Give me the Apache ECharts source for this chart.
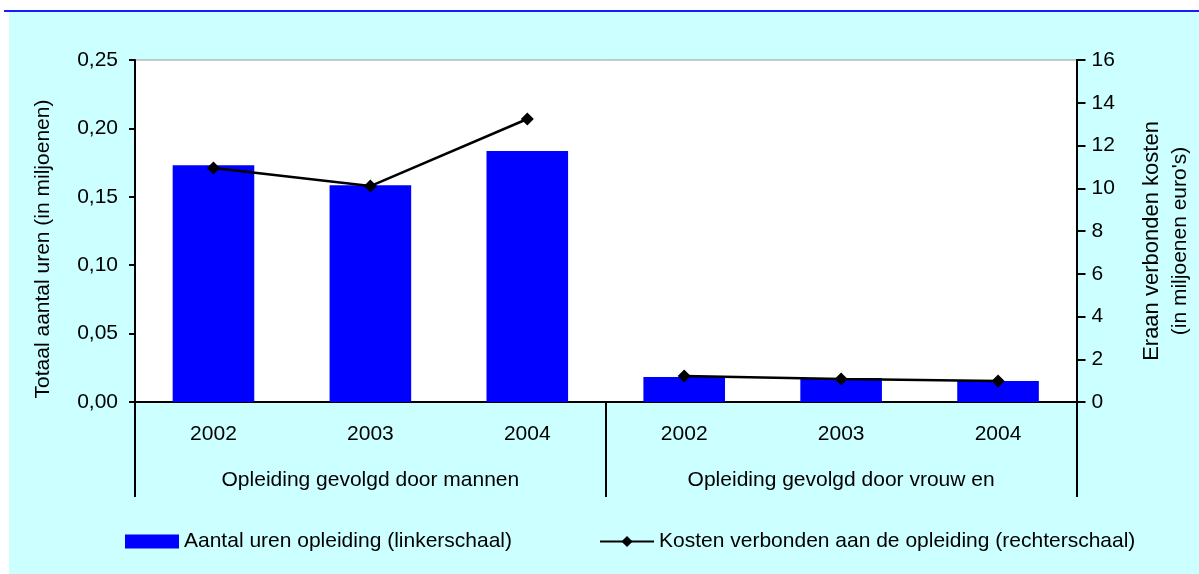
<!DOCTYPE html>
<html>
<head>
<meta charset="utf-8">
<script src="https://cdn.jsdelivr.net/npm/echarts@6/dist/echarts.min.js"></script>
<style>
  html, body { margin: 0; padding: 0; background: #fff; }
  #chart { width: 1199px; height: 574px; }
</style>
</head>
<body>
<div id="chart"></div>
<script>
// Data
const years = ["2002", "2003", "2004", "2002", "2003", "2004"];
const groups = ["Opleiding gevolgd door mannen", "Opleiding gevolgd door vrouw en"];
const hours = [0.173, 0.1585, 0.1835, 0.0183, 0.0175, 0.0154];
const costsMen = [10.95, 10.1, 13.24, "-", "-", "-"];
const costsWomen = ["-", "-", "-", 1.22, 1.08, 0.98];

const FONT = "Liberation Sans, Arial, sans-serif";
const BAR_NAME = "Aantal uren opleiding (linkerschaal)";
const LINE_NAME = "Kosten verbonden aan de opleiding (rechterschaal)";

const chart = echarts.init(document.getElementById("chart"));

const lineSeries = (data) => ({
  name: LINE_NAME,
  type: "line",
  yAxisIndex: 1,
  data: data,
  symbol: "diamond",
  symbolSize: 13,
  lineStyle: { color: "#000", width: 2.5 },
  itemStyle: { color: "#000" },
  z: 5,
});

const option = {
  animation: false,
  backgroundColor: "#fff",
  textStyle: { fontFamily: FONT },
  graphic: [
    // cyan page background and top blue rule
    { type: "rect", left: 9, top: 12, shape: { width: 1190, height: 562 }, style: { fill: "#ccffff" }, z: -10 },
    { type: "rect", left: 4, top: 10, shape: { width: 1195, height: 2 }, style: { fill: "#1a1aff" }, z: -9 },
  ],
  grid: {
    left: 135,
    right: 122,
    top: 60,
    bottom: 172,
    show: true,
    backgroundColor: "#fff",
    borderColor: "#999",
    borderWidth: 1,
  },
  legend: {
    data: [
      { name: BAR_NAME, icon: "rect" },
      { name: LINE_NAME },
    ],
    left: 120,
    top: 526,
    itemWidth: 54,
    itemHeight: 14,
    itemGap: 87,
    textStyle: { fontSize: 21, color: "#000", fontFamily: FONT },
  },
  xAxis: [
    {
      type: "category",
      data: years,
      position: "bottom",
      axisLine: { lineStyle: { color: "#000", width: 2 } },
      axisTick: { show: false },
      axisLabel: { color: "#000", fontSize: 21, margin: 22, fontFamily: FONT },
    },
    {
      type: "category",
      data: groups,
      position: "bottom",
      offset: 0,
      axisLine: { show: false },
      axisTick: { show: true, length: 95, lineStyle: { color: "#000", width: 2 } },
      axisLabel: { color: "#000", fontSize: 21, margin: 68, fontFamily: FONT },
    },
  ],
  yAxis: [
    {
      type: "value",
      min: 0,
      max: 0.25,
      interval: 0.05,
      position: "left",
      name: "Totaal aantal uren (in miljoenen)",
      nameLocation: "middle",
      nameRotate: 90,
      nameGap: 81,
      nameTextStyle: { color: "#000", fontSize: 21, fontFamily: FONT, padding: [0, 36, 0, 0] },
      axisLine: { show: true, lineStyle: { color: "#000", width: 2 } },
      axisTick: { show: true, length: 6, lineStyle: { color: "#000", width: 2 } },
      axisLabel: {
        color: "#000",
        fontSize: 21,
        margin: 17,
        fontFamily: FONT,
        formatter: (v) => v.toFixed(2).replace(".", ","),
      },
      splitLine: { show: false },
    },
    {
      type: "value",
      min: 0,
      max: 16,
      interval: 2,
      position: "right",
      name: "{a|Eraan verbonden kosten}\n{b|(in miljoenen euro's)}",
      nameLocation: "middle",
      nameRotate: 90,
      nameGap: 60,
      nameTextStyle: {
        color: "#000",
        fontFamily: FONT,
        padding: [0, 20, 0, 0],
        rich: {
          a: { fontSize: 22, color: "#000", fontFamily: FONT, lineHeight: 30 },
          b: { fontSize: 21, color: "#000", fontFamily: FONT, lineHeight: 28 },
        },
      },
      axisLine: { show: true, lineStyle: { color: "#000", width: 2 } },
      axisTick: { show: true, length: 9, lineStyle: { color: "#000", width: 2 } },
      axisLabel: { color: "#000", fontSize: 21, margin: 15, fontFamily: FONT },
      splitLine: { show: false },
    },
  ],
  series: [
    {
      name: BAR_NAME,
      type: "bar",
      data: hours,
      barWidth: "52%",
      itemStyle: { color: "#0000ff" },
    },
    lineSeries(costsMen),
    lineSeries(costsWomen),
  ],
};

chart.setOption(option);
</script>
</body>
</html>
